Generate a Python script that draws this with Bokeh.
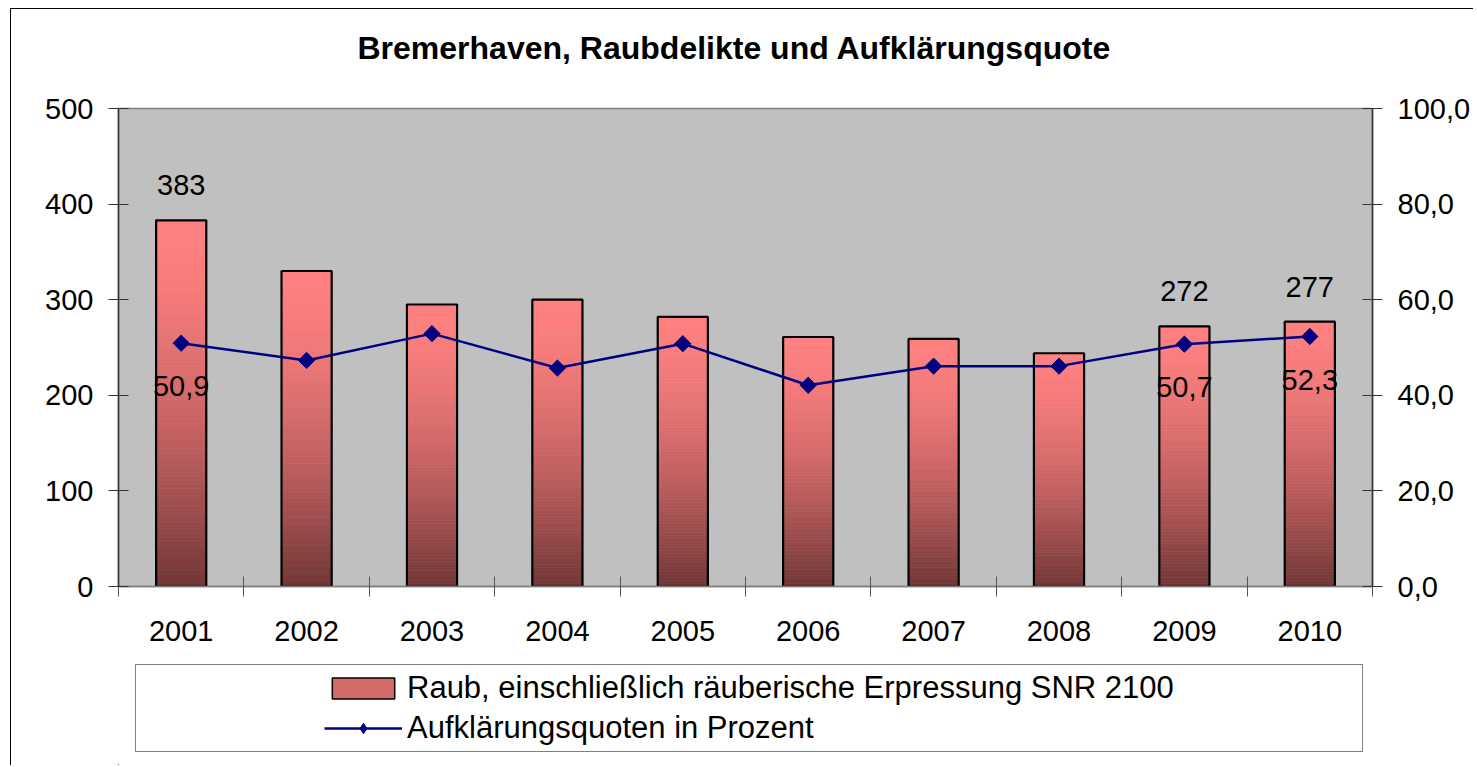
import numpy as np
from bokeh.plotting import figure
from bokeh.layouts import column
from bokeh.models import (Range1d, LinearAxis, FixedTicker, Legend, LegendItem,
                          ColumnDataSource, Title)
from bokeh.core.properties import value
from bokeh.embed import file_html
from bokeh.resources import INLINE

# ---------------- data ----------------
years = ["2001", "2002", "2003", "2004", "2005", "2006", "2007", "2008", "2009", "2010"]
cases = [383, 330, 295, 300, 282, 261, 259, 244, 272, 277]
rate = [50.9, 47.3, 52.9, 45.7, 50.8, 42.1, 46.1, 46.1, 50.7, 52.3]
labelled_years = ["2001", "2009", "2010"]
left_ticks = [0, 100, 200, 300, 400, 500]
right_ticks = [0, 20, 40, 60, 80, 100]
right_tick_labels = ["0,0", "20,0", "40,0", "60,0", "80,0", "100,0"]
title_text = "Bremerhaven, Raubdelikte und Aufklärungsquote"
bar_name = "Raub, einschließlich räuberische Erpressung SNR 2100"
line_name = "Aufklärungsquoten in Prozent"

# ---------------- style ----------------
FONT = "Liberation Sans"
W = 1462
HM = 650          # main figure height
HL = 106          # legend strip height
PINK = np.array([255, 128, 128])
DARK = np.array([112, 54, 54])
NAVY = "#000080"
BAR_W = 0.4

n = len(years)
centers = np.arange(n) + 0.5
mid = PINK + (DARK - PINK) * 0.3
mid_hex = "#%02x%02x%02x" % tuple(int(round(c)) for c in mid)

p = figure(width=W, height=HM, output_backend="svg", toolbar_location=None,
           x_range=Range1d(0, n), y_range=Range1d(0, 500),
           min_border_left=107, min_border_right=W - 1361, min_border_top=99,
           min_border_bottom=HM - 577,
           background_fill_color="#C0C0C0", border_fill_color="white",
           outline_line_color="#808080", outline_line_width=1.5)
p.extra_y_ranges = {"pct": Range1d(0, 100)}
p.xgrid.visible = False
p.ygrid.visible = False

# title: a blank spacer title next to the frame, the real title above it
p.add_layout(Title(text=" ", text_font_size="1px", standoff=40), "above")
p.add_layout(Title(text=title_text, align="left", offset=239, text_font=FONT,
                   text_font_size="32px", text_font_style="bold",
                   text_color="black", standoff=0), "above")

# x axis: labels at centres, boundary ticks as minor ticks
xa = p.xaxis[0]
xa.ticker = FixedTicker(ticks=list(centers), minor_ticks=list(range(n + 1)))
xa.major_label_overrides = {float(c): y for c, y in zip(centers, years)}
xa.major_tick_in = 0
xa.major_tick_out = 0
xa.minor_tick_in = 10
xa.minor_tick_out = 10
xa.minor_tick_line_color = "#555555"
xa.axis_line_color = "#808080"
xa.axis_line_width = 1.5
xa.major_label_standoff = 24
xa.major_label_text_font = FONT
xa.major_label_text_font_size = "29px"
xa.major_label_text_color = "black"

# left axis
ya = p.yaxis[0]
ya.ticker = FixedTicker(ticks=left_ticks, minor_ticks=[])
ya.major_tick_in = 10
ya.major_tick_out = 10
ya.major_tick_line_color = "#333333"
ya.axis_line_color = "#333333"
ya.axis_line_width = 1.5
ya.major_label_standoff = 15
ya.major_label_text_font = FONT
ya.major_label_text_font_size = "29px"
ya.major_label_text_color = "black"

# right axis
ra = LinearAxis(y_range_name="pct",
                ticker=FixedTicker(ticks=right_ticks, minor_ticks=[]))
ra.major_label_overrides = {t: l for t, l in zip(right_ticks, right_tick_labels)}
ra.major_tick_in = 10
ra.major_tick_out = 10
ra.major_tick_line_color = "#333333"
ra.axis_line_color = "#333333"
ra.axis_line_width = 1.5
ra.major_label_standoff = 15
ra.major_label_text_font = FONT
ra.major_label_text_font_size = "29px"
ra.major_label_text_color = "black"
p.add_layout(ra, "right")

# ---------------- bars with vertical gradient ----------------
N = 90
L, R, B, T, C = [], [], [], [], []
for i, v in enumerate(cases):
    for k in range(N):
        tt = 1 - (k + 0.5) / N          # 0 at top, 1 at bottom
        f = tt ** 1.6
        col = PINK + (DARK - PINK) * f
        L.append(centers[i] - BAR_W / 2)
        R.append(centers[i] + BAR_W / 2)
        B.append(v * k / N)
        T.append(v * (k + 1) / N)
        C.append("#%02x%02x%02x" % tuple(int(round(c)) for c in col))
grad_src = ColumnDataSource(dict(left=L, right=R, bottom=B, top=T, color=C))
p.quad(left="left", right="right", bottom="bottom", top="top", source=grad_src,
       fill_color="color", line_color="color", line_width=0.6)
p.vbar(x=centers, top=cases, width=BAR_W, fill_color=None,
       line_color="black", line_width=2.2)

# ---------------- line ----------------
p.line(centers, rate, y_range_name="pct", line_color=NAVY, line_width=2.5)
p.scatter(centers, rate, y_range_name="pct", marker="square", size=11.5,
          angle=np.pi / 4, fill_color=NAVY, line_color=NAVY)

# ---------------- data labels ----------------
idx = [years.index(y) for y in labelled_years]
p.text(x=[centers[i] for i in idx], y=[cases[i] for i in idx],
       text=[str(cases[i]) for i in idx], text_align="center",
       text_baseline="alphabetic", y_offset=-35, text_font=value(FONT),
       text_font_size="29px", text_color="black")
p.text(x=[centers[i] for i in idx], y=[rate[i] for i in idx],
       text=[f"{rate[i]:.1f}".replace(".", ",") for i in idx],
       y_range_name="pct", text_align="center", text_baseline="alphabetic",
       y_offset=43, text_font=value(FONT), text_font_size="29px",
       text_color="black")

# ---------------- legend strip (separate figure; its ranges keep the series out of view) ----
lg = figure(width=W, height=HL, output_backend="svg", toolbar_location=None,
            x_range=Range1d(1000, 1001), y_range=Range1d(1000, 1001),
            x_axis_location=None, y_axis_location=None,
            min_border=0, min_border_left=0, min_border_right=0,
            min_border_top=0, min_border_bottom=0,
            background_fill_color="white", border_fill_color="white",
            outline_line_color=None)
lg.xgrid.visible = False
lg.ygrid.visible = False
lg_bar = lg.vbar(x=centers, top=cases, width=BAR_W, fill_color=mid_hex,
                 line_color="black", line_width=1.5)
lg_line = lg.line(centers, rate, line_color=NAVY, line_width=2.5)
lg_mark = lg.scatter(centers, rate, marker="diamond", size=15,
                     fill_color=NAVY, line_color=NAVY)

items = [LegendItem(label=" ", renderers=[]),
         LegendItem(label=bar_name, renderers=[lg_bar]),
         LegendItem(label=" ", renderers=[]),
         LegendItem(label=" ", renderers=[]),
         LegendItem(label=line_name, renderers=[lg_line, lg_mark]),
         LegendItem(label=" ", renderers=[])]
legend = Legend(items=items, ncols=3, orientation="horizontal",
                location=(17, 13), margin=0,
                border_line_color="black", border_line_width=1.5,
                background_fill_color="white", background_fill_alpha=1,
                padding=5, spacing=4, label_width=96,
                glyph_width=78, glyph_height=26, label_standoff=5,
                label_text_font=FONT, label_text_font_size="31px",
                label_text_color="black")
lg.add_layout(legend, "center")

layout = column(p, lg, spacing=0)
layout.margin = (8, 0, 0, 10)
layout.styles = {"border-left": "1px solid black", "border-top": "1px solid black"}

open("out.html", "w").write(file_html(layout, INLINE))
